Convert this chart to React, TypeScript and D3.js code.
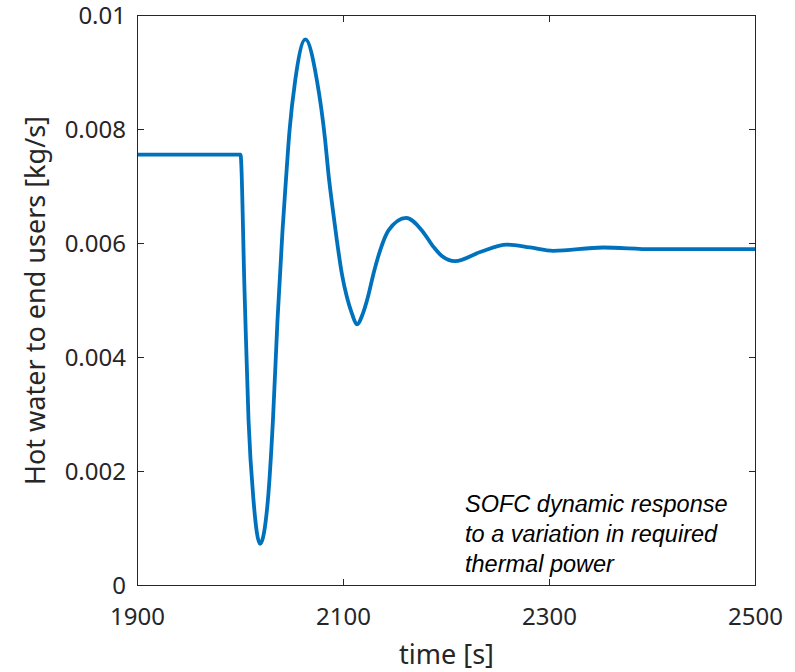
import React from "react";
import * as d3 from "d3";

const timeValues = [
  1900, 2000, 2003.9, 2007.8, 2012.6, 2019, 2026.6, 2031.5, 2035.9, 2040.8,
  2044.1, 2047.6, 2053.1, 2063, 2074.2, 2082.2, 2085.4, 2089.3, 2093.6,
  2098.4, 2103.3, 2108.2, 2113, 2118.8, 2123.7, 2129.1, 2135.6, 2143.7,
  2160.9, 2176.1, 2187.4, 2195.5, 2208.4, 2232.7, 2258.5, 2281, 2303.6, 2352,
  2400, 2450, 2500,
];
const flowValues = [
  0.00756, 0.00756, 0.00518, 0.0029, 0.0015, 0.00073, 0.0015, 0.0029,
  0.00465, 0.00623, 0.00711, 0.00798, 0.00886, 0.00958, 0.00886, 0.00781,
  0.00722, 0.00664, 0.00605, 0.00547, 0.00506, 0.00477, 0.00458, 0.00477,
  0.00506, 0.00547, 0.00588, 0.00623, 0.00645, 0.00623, 0.00594, 0.00578,
  0.00569, 0.00585, 0.00598, 0.00593, 0.00587, 0.00593, 0.0059, 0.0059,
  0.0059,
];
const xTicks = [1900, 2100, 2300, 2500];
const xTickLabels = ["1900", "2100", "2300", "2500"];
const yTicks = [0, 0.002, 0.004, 0.006, 0.008, 0.01];
const yTickLabels = ["0", "0.002", "0.004", "0.006", "0.008", "0.01"];
const annotationLines = [
  "SOFC dynamic response",
  "to a variation in required",
  "thermal power",
];

const W = 795;
const H = 672;
const L = 137.5;
const R = 755.5;
const T = 15.5;
const B = 585.5;
const TICK = 6.5;
const AXIS = "#262626";
const FONT = "'Noto Sans', 'Open Sans', sans-serif";

export default function App() {
  const x = d3.scaleLinear().domain([1900, 2500]).range([L, R]);
  const y = d3.scaleLinear().domain([0, 0.01]).range([B, T]);
  const data = timeValues.map((t, i) => [t, flowValues[i]] as [number, number]);
  const line = d3
    .line<[number, number]>()
    .x((d) => x(d[0]))
    .y((d) => y(d[1]))
    .curve(d3.curveMonotoneX);

  return (
    <svg
      width={W}
      height={H}
      style={{ position: "absolute", left: 0, top: 0, background: "#fff" }}
    >
      <rect x={0} y={0} width={W} height={H} fill="#fff" />
      <path
        d={line(data) || ""}
        fill="none"
        stroke="#0072BD"
        strokeWidth={3.8}
        strokeLinejoin="round"
      />
      <rect
        x={L}
        y={T}
        width={R - L}
        height={B - T}
        fill="none"
        stroke={AXIS}
        strokeWidth={1}
      />
      {xTicks.map((t, i) => (
        <g key={"xt" + i}>
          <line x1={x(t)} x2={x(t)} y1={B} y2={B - TICK} stroke={AXIS} />
          <line x1={x(t)} x2={x(t)} y1={T} y2={T + TICK} stroke={AXIS} />
          <text
            x={x(t)}
            y={625}
            textAnchor="middle"
            fontFamily={FONT}
            fontSize={24}
            fill={AXIS}
          >
            {xTickLabels[i]}
          </text>
        </g>
      ))}
      {yTicks.map((v, i) => (
        <g key={"yt" + i}>
          <line x1={L} x2={L + TICK} y1={y(v)} y2={y(v)} stroke={AXIS} />
          <line x1={R} x2={R - TICK} y1={y(v)} y2={y(v)} stroke={AXIS} />
          <text
            x={126}
            y={y(v)}
            dy="0.35em"
            textAnchor="end"
            fontFamily={FONT}
            fontSize={24}
            fill={AXIS}
          >
            {yTickLabels[i]}
          </text>
        </g>
      ))}
      <text
        x={(L + R) / 2}
        y={664}
        textAnchor="middle"
        fontFamily={FONT}
        fontSize={27}
        fill={AXIS}
      >
        time [s]
      </text>
      <text
        transform={`translate(45, ${(T + B) / 2}) rotate(-90)`}
        textAnchor="middle"
        fontFamily={FONT}
        fontSize={27}
        fill={AXIS}
      >
        Hot water to end users [kg/s]
      </text>
      {annotationLines.map((s, i) => (
        <text
          key={"an" + i}
          x={465}
          y={512 + i * 30}
          fontFamily="'Liberation Sans', Arial, sans-serif"
          fontStyle="italic"
          fontSize={23.5}
          fill="#000"
        >
          {s}
        </text>
      ))}
    </svg>
  );
}
